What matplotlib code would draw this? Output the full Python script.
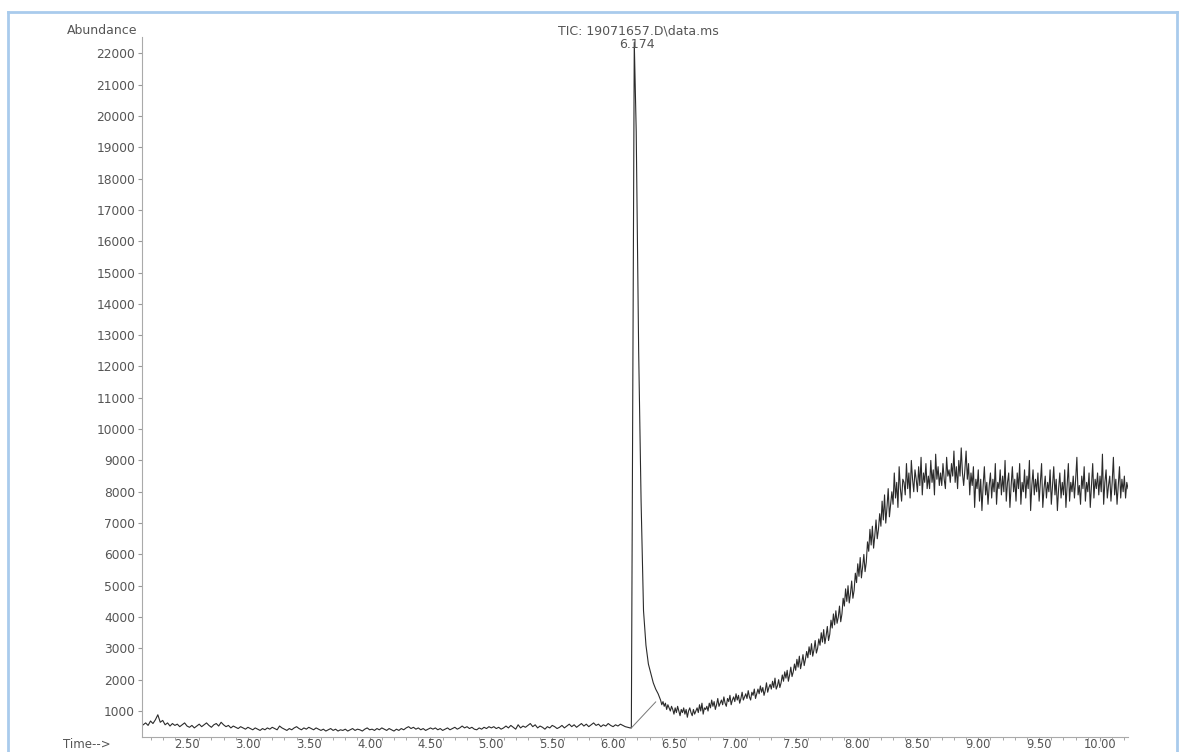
import numpy as np
import matplotlib.pyplot as plt
from matplotlib.lines import Line2D
from matplotlib.ticker import MultipleLocator, FormatStrFormatter

# baseline section, 2.14 - 6.14 min every 0.02 min
base_start, base_step = 2.14, 0.02
base_vals = [
    560, 620, 540, 680, 600, 720, 880, 640, 700, 560, 620, 520, 600, 540, 580, 500, 560, 620, 520,
    480, 540, 460, 520, 580, 500, 560, 620, 540, 480, 560, 600, 520, 640, 560, 500, 540, 460, 520, 480, 440, 500, 460, 420, 480,
    440, 400, 460, 420, 380, 440, 400, 460, 420, 480, 440, 400, 520, 460, 420, 380, 440, 400, 460, 500, 440, 400, 460, 420, 480,
    440, 400, 460, 420, 380, 420, 360, 400, 440, 380, 420, 360, 400, 380, 420, 360, 400, 440, 380, 420, 400, 360, 420, 460, 400,
    420, 380, 440, 400, 460, 420, 380, 440, 400, 360, 420, 380, 440, 400, 460, 500, 440, 480, 420, 460, 400, 440, 380, 420, 460,
    420, 460, 400, 440, 380, 420, 460, 400, 440, 480, 420, 460, 520, 460, 500, 440, 480, 420, 400, 460, 420, 480, 440, 500, 460,
    500, 440, 480, 420, 460, 520, 460, 540, 480, 420, 560, 460, 520, 480, 540, 600, 500, 560, 460, 520, 480, 420, 500, 460, 540,
    500, 440, 480, 540, 460, 520, 580, 500, 560, 480, 540, 600, 520, 580, 500, 560, 620, 540, 580, 500, 560, 520, 600, 540, 500,
    560, 520, 580, 540, 500, 480, 460,
]

# main peak
peak_t = [6.15, 6.16, 6.174, 6.19, 6.21, 6.23, 6.25, 6.27, 6.29, 6.31, 6.33, 6.35, 6.37]
peak_v = [460, 9500, 22350, 19500, 12500, 7700, 4200, 3100, 2500, 2200, 1900, 1700, 1550]

# rising hump, 6.39 - 10.23 min every 0.01 min
hump_start, hump_step = 6.39, 0.01
hump_vals = [
    1350, 1200, 1300, 1150, 1250, 1050, 1200, 1100, 1000, 1150,
    1050, 900, 1100, 950, 1150, 1000, 850, 1050, 950, 1100,
    900, 1050, 800, 1000, 1100, 950, 850, 1050, 900, 1000,
    1100, 950, 1200, 1000, 1250, 900, 1100, 1050, 1150, 1000,
    1250, 1100, 1350, 1150, 1300, 1050, 1200, 1400, 1150, 1250,
    1350, 1200, 1450, 1250, 1150, 1400, 1300, 1500, 1200, 1350,
    1450, 1300, 1550, 1350, 1500, 1250, 1400, 1600, 1350, 1450,
    1550, 1400, 1650, 1450, 1350, 1600, 1500, 1700, 1400, 1550,
    1700, 1550, 1800, 1600, 1750, 1500, 1650, 1900, 1600, 1750,
    1850, 1700, 1950, 1750, 2050, 1700, 1800, 2000, 1750, 1900,
    2150, 1950, 2250, 2050, 2300, 1950, 2150, 2400, 2100, 2250,
    2500, 2300, 2650, 2400, 2750, 2350, 2550, 2800, 2450, 2650,
    2900, 2700, 3050, 2800, 3150, 2750, 2950, 3250, 2850, 3000,
    3300, 3100, 3500, 3200, 3600, 3150, 3400, 3700, 3250, 3450,
    3900, 3650, 4100, 3750, 4200, 3800, 4000, 4350, 3850, 4100,
    4600, 4350, 4900, 4500, 5000, 4450, 4750, 5150, 4600, 4850,
    5400, 5100, 5700, 5300, 5900, 5250, 5600, 6000, 5450, 5750,
    6400, 6100, 6800, 6300, 6900, 6200, 6600, 7100, 6500, 6800,
    7300, 6900, 7700, 7100, 7900, 7000, 7500, 8100, 7200, 7600,
    8000, 7600, 8600, 7800, 8300, 7500, 8800, 8100, 7700, 8400,
    8300, 7900, 8900, 8100, 8600, 7800, 9000, 8400, 8000, 8700,
    8400, 8000, 8800, 8200, 9100, 7900, 8600, 8300, 8900, 8100,
    8500, 8100, 9000, 8300, 8700, 7900, 9200, 8400, 8800, 8200,
    8600, 8200, 8900, 8400, 8100, 9100, 8500, 8700, 8300, 8900,
    8500, 9300, 8300, 8800, 8100, 9000, 8500, 9400, 8600, 8200,
    8700, 9300, 8400, 8900, 7900, 8600, 8200, 8800, 7500, 8400,
    8100, 8700, 7700, 8400, 7400, 8200, 8800, 7900, 8300, 7600,
    8200, 8600, 7800, 8400, 8000, 8900, 7600, 8300, 8100, 8700,
    7900, 8500, 8000, 9000, 7700, 8300, 8600, 7500, 8200, 8800,
    8000, 8400, 7700, 8600, 8100, 8900, 7600, 8300, 8000, 8700,
    7800, 8500, 8100, 9000, 7400, 8200, 8700, 7900, 8400, 8000,
    8600, 7700, 8300, 8900, 7500, 8100, 8500, 7800, 8300, 8000,
    8700, 7600, 8200, 8800, 7900, 8400, 7400, 8100, 8600, 7800,
    8300, 7900, 8700, 7500, 8200, 8900, 7700, 8300, 8000, 8500,
    7800, 8400, 9100, 7900, 8200, 7600, 8500, 8100, 8800, 7700,
    8300, 8000, 8600, 7500, 8200, 8900, 7800, 8400, 8100, 8600,
    7900, 8500, 8000, 9200, 7600, 8300, 8700, 7800, 8200, 8500,
    7700, 8300, 9100, 7900, 8400, 7600, 8200, 8800, 7800, 8400,
    8000, 8500, 7800, 8300, 8100,
]

# integration baseline under the peak
integ_t = [6.15, 6.35]
integ_v = [460, 1290]

peak_label = "6.174"
title = "TIC: 19071657.D\\data.ms"

base_t = base_start + base_step * np.arange(len(base_vals))
hump_t = hump_start + hump_step * np.arange(len(hump_vals))
t = np.concatenate([base_t, peak_t, hump_t])
v = np.concatenate([base_vals, peak_v, hump_vals])

W, H = 1181, 752
fig = plt.figure(figsize=(W / 100, H / 100), dpi=100)
ax = fig.add_axes([142 / W, 1 - 737 / H, (1128 - 142) / W, (737 - 37) / H])

txt = '#555555'
ax.plot(t, v, color='#2b2b2b', lw=0.8)
ax.plot(integ_t, integ_v, color='#777777', lw=0.7)

ax.set_xlim(2.13, 10.23)
ax.set_ylim(170, 22520)
ax.set_yticks(np.arange(1000, 22001, 1000))
ax.set_xticks(np.arange(2.5, 10.01, 0.5))
ax.xaxis.set_minor_locator(MultipleLocator(0.1))
ax.xaxis.set_major_formatter(FormatStrFormatter('%.2f'))

for s in ['top', 'right']:
    ax.spines[s].set_visible(False)
for s in ['left', 'bottom']:
    ax.spines[s].set_color('#aaaaaa')
    ax.spines[s].set_linewidth(0.8)

ax.tick_params(axis='both', which='both', colors='#999999', labelcolor=txt,
               labelsize=8.8, direction='out')
ax.tick_params(axis='y', length=3, pad=2)
ax.tick_params(axis='x', which='major', length=3, pad=-2, labelsize=8.3)
ax.tick_params(axis='x', which='minor', length=2)

fig.text(102 / W, 1 - 31 / H, 'Abundance', ha='center', va='center', fontsize=9, color=txt)
fig.text(87 / W, 1 - 744 / H, 'Time-->', ha='center', va='center', fontsize=8.5, color=txt)
fig.text(638 / W, 1 - 37 / H, title, ha='center', va='bottom', fontsize=9, color=txt)
fig.text(637 / W, 1 - 38 / H, peak_label, ha='center', va='top', fontsize=9, color=txt)

# light blue frame around the report
frame = '#a9cbec'
fig.add_artist(Line2D([8 / W, 1177 / W], [1 - 12 / H, 1 - 12 / H], color=frame, lw=2))
fig.add_artist(Line2D([8 / W, 8 / W], [1 - 12 / H, 0], color=frame, lw=2))
fig.add_artist(Line2D([1177 / W, 1177 / W], [1 - 12 / H, 0], color=frame, lw=2))

fig.savefig('out.png', dpi=100)
